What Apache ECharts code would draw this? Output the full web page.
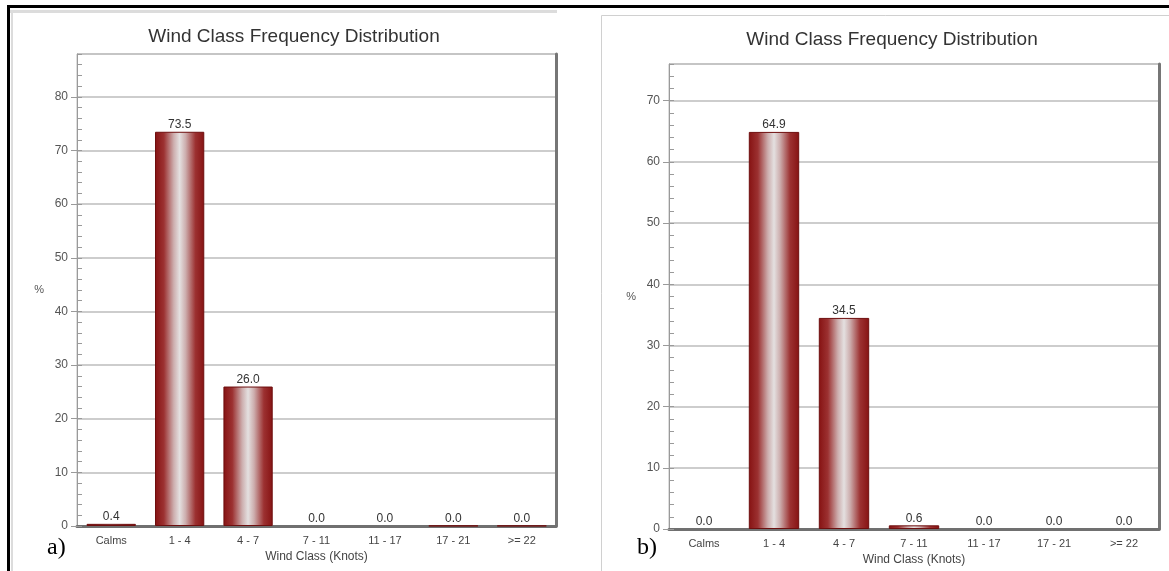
<!DOCTYPE html>
<html>
<head>
<meta charset="utf-8">
<script src="https://cdn.jsdelivr.net/npm/echarts@6/dist/echarts.min.js"></script>
<style>
html,body{margin:0;padding:0;background:#fff;}
#c{width:1169px;height:571px;}
</style>
</head>
<body>
<div id="c"></div>
<script>
// ---- data ----
const categories = ['Calms', '1 - 4', '4 - 7', '7 - 11', '11 - 17', '17 - 21', '>= 22'];
const valuesA = [0.4, 73.5, 26.0, 0.0, 0.0, 0.04, 0.04];
const valuesB = [0.0, 64.9, 34.5, 0.6, 0.0, 0.0, 0.0];
const yMaxA = 88;
const yMaxB = 76;
const titleText = 'Wind Class Frequency Distribution';
const xName = 'Wind Class (Knots)';
const yName = '%';
const panelLabels = ['a)', 'b)'];

// ---- layout / style ----
const FONT = '"Liberation Sans", Arial, sans-serif';
const grids = [
  { left: 77, top: 54, width: 479, height: 472 },
  { left: 669, top: 64, width: 490, height: 465 }
];
const yMaxes = [yMaxA, yMaxB];
const seriesValues = [valuesA, valuesB];

const barGradient = new echarts.graphic.LinearGradient(0, 0, 1, 0, [
  { offset: 0, color: '#861212' },
  { offset: 0.18, color: '#9c3131' },
  { offset: 0.38, color: '#cdaeae' },
  { offset: 0.5, color: '#e4e0e0' },
  { offset: 0.62, color: '#cdaeae' },
  { offset: 0.82, color: '#9c3131' },
  { offset: 1, color: '#861212' }
]);

const xAxes = [], yAxes = [], series = [];
grids.forEach((g, i) => {
  xAxes.push({
    type: 'category', gridIndex: i, data: categories, position: 'bottom',
    axisLine: { lineStyle: { color: '#707070', width: 3 } },
    axisTick: { alignWithLabel: true, length: 7, lineStyle: { color: '#8a8a8a' } },
    axisLabel: { fontSize: 11, color: '#444', fontFamily: FONT, margin: 9 },
    name: xName, nameLocation: 'middle', nameGap: 25,
    nameTextStyle: { fontSize: 12, color: '#444', fontFamily: FONT }
  });
  xAxes.push({
    type: 'category', gridIndex: i, data: categories, position: 'bottom',
    axisLine: { show: false },
    axisTick: { alignWithLabel: true, inside: true, length: 8, lineStyle: { color: '#8a8a8a' } },
    axisLabel: { show: false }
  });
  yAxes.push({
    type: 'value', gridIndex: i, min: 0, max: yMaxes[i], interval: 10, position: 'left',
    axisLine: { show: true, lineStyle: { color: '#9a9a9a' } },
    axisTick: { show: true, length: 6, lineStyle: { color: '#9a9a9a' } },
    axisLabel: { fontSize: 12, color: '#555', fontFamily: FONT, margin: 9, showMaxLabel: false },
    splitLine: { show: true, lineStyle: { color: '#bdbdbd', width: 1.5 } },
    name: yName, nameLocation: 'middle', nameRotate: 0, nameGap: 33,
    nameTextStyle: { fontSize: 11, color: '#555', fontFamily: FONT }
  });
  yAxes.push({
    type: 'value', gridIndex: i, min: 0, max: yMaxes[i], interval: 2, position: 'left',
    axisLine: { show: false },
    axisTick: { show: true, inside: true, length: 5, lineStyle: { color: '#9a9a9a' } },
    axisLabel: { show: false }, splitLine: { show: false }
  });
  yAxes.push({
    type: 'value', gridIndex: i, min: 0, max: yMaxes[i], position: 'right',
    axisLine: { show: true, lineStyle: { color: '#767676', width: 3 } },
    axisTick: { show: false }, axisLabel: { show: false }, splitLine: { show: false }
  });
  // visible bars (exact zeros are not drawn)
  series.push({
    type: 'bar', xAxisIndex: i * 2, yAxisIndex: i * 3,
    data: seriesValues[i].map(v => (v === 0 ? '-' : v)), barWidth: '72%',
    itemStyle: { color: barGradient, borderColor: '#6e0e0e', borderWidth: 1 },
    label: { show: false }
  });
  // value labels (transparent overlay on the same slots)
  series.push({
    type: 'bar', xAxisIndex: i * 2, yAxisIndex: i * 3,
    data: seriesValues[i], barWidth: '72%', barGap: '-100%',
    itemStyle: { color: 'rgba(0,0,0,0)' },
    label: {
      show: true, position: 'top', distance: 1, fontSize: 12, color: '#333', fontFamily: FONT,
      formatter: p => p.value.toFixed(1)
    }
  });
});

const chart = echarts.init(document.getElementById('c'), null, { renderer: 'canvas' });
chart.setOption({
  backgroundColor: '#ffffff',
  animation: false,
  title: [
    { text: titleText, left: 294, top: 27, textAlign: 'center', padding: 0,
      textStyle: { fontSize: 19, fontWeight: 'normal', color: '#333', fontFamily: FONT } },
    { text: titleText, left: 892, top: 30, textAlign: 'center', padding: 0,
      textStyle: { fontSize: 19, fontWeight: 'normal', color: '#333', fontFamily: FONT } }
  ],
  grid: grids.map(g => Object.assign({ show: true, borderColor: '#bdbdbd', borderWidth: 1, backgroundColor: '#fff', containLabel: false }, g)),
  xAxis: xAxes,
  yAxis: yAxes,
  series: series,
  graphic: [
    { type: 'rect', z: -1, shape: { x: 10, y: 10, width: 547, height: 3 }, style: { fill: '#dcdcdc' } },
    { type: 'rect', z: -1, shape: { x: 11, y: 10, width: 2, height: 561 }, style: { fill: '#dcdcdc' } },
    { type: 'rect', z: -1, shape: { x: 601.5, y: 15.5, width: 580, height: 580 }, style: { fill: 'none', stroke: '#d0d0d0', lineWidth: 1 } },
    { type: 'rect', z: 10, shape: { x: 7, y: 5, width: 1162, height: 3 }, style: { fill: '#000' } },
    { type: 'rect', z: 10, shape: { x: 7, y: 5, width: 3, height: 566 }, style: { fill: '#000' } },
    { type: 'text', z: 10, x: 47, y: 548, style: { text: panelLabels[0], font: '24px "Liberation Serif", "Times New Roman", serif', fill: '#000', verticalAlign: 'middle' } },
    { type: 'text', z: 10, x: 637, y: 548, style: { text: panelLabels[1], font: '24px "Liberation Serif", "Times New Roman", serif', fill: '#000', verticalAlign: 'middle' } }
  ]
});
</script>
</body>
</html>
